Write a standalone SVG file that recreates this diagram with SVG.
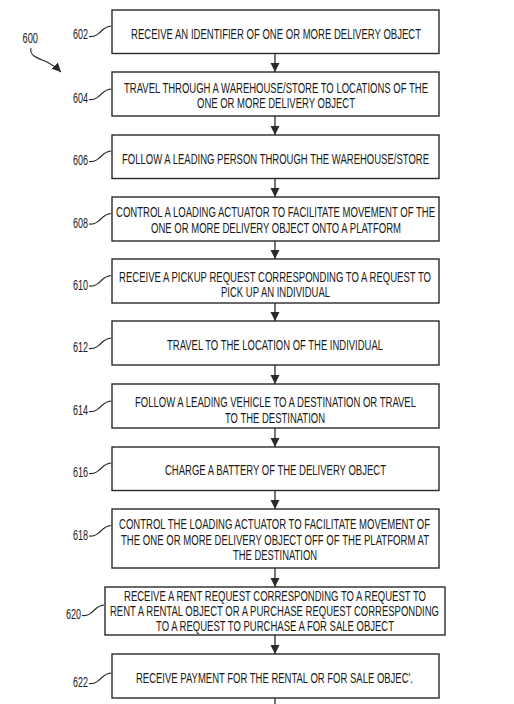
<svg xmlns="http://www.w3.org/2000/svg" width="514" height="704" viewBox="0 0 514 704">
<style>
.bg{fill:#fff}
.box{fill:#fff;stroke:#2a2a2a;stroke-width:1.4}
.t{font-family:"Liberation Sans",Arial,sans-serif;font-size:14px;fill:#1a1a1a}
.lb{font-family:"Liberation Sans",Arial,sans-serif;font-size:14px;fill:#1a1a1a}
.ld{fill:none;stroke:#2a2a2a;stroke-width:1.1}
.cn{fill:none;stroke:#2a2a2a;stroke-width:1.3}
</style>
<defs>
<marker id="ah" markerUnits="userSpaceOnUse" markerWidth="9" markerHeight="10" refX="9" refY="4.5" orient="auto">
<path d="M0,0 L9,4.5 L0,9 z" fill="#2a2a2a"/>
</marker>
</defs>
<rect class="bg" x="0" y="0" width="514" height="704"/>

<g id="ref600">
<text class="lb" x="22.5" y="43" textLength="15.5" lengthAdjust="spacingAndGlyphs">600</text>
<path class="ld" d="M31,48 C29,56 38,58 47,62 C53,65 57,68 61,72" marker-end="url(#ah)"/>
</g>

<g id="n602">
<rect class="box" x="112" y="10" width="327" height="43.5"/>
<text class="t" transform="translate(131,38.5) scale(0.72,1)" textLength="402.8" lengthAdjust="spacingAndGlyphs">RECEIVE AN IDENTIFIER OF ONE OR MORE DELIVERY OBJECT</text>
<text class="lb" x="73" y="39" textLength="15" lengthAdjust="spacingAndGlyphs">602</text>
<path class="ld" d="M89,36.5 C95,37.5 99,33.5 103,29.5 C105,27.5 108,26.5 111,26"/>
</g>

<g id="n604">
<rect class="box" x="112" y="72" width="327" height="44"/>
<text class="t" transform="translate(124,92.5) scale(0.72,1)" textLength="422.2" lengthAdjust="spacingAndGlyphs">TRAVEL THROUGH A WAREHOUSE/STORE TO LOCATIONS OF THE</text>
<text class="t" transform="translate(197,107.5) scale(0.72,1)" textLength="219.4" lengthAdjust="spacingAndGlyphs">ONE OR MORE DELIVERY OBJECT</text>
<text class="lb" x="73" y="103" textLength="15" lengthAdjust="spacingAndGlyphs">604</text>
<path class="ld" d="M89,99.5 C95,100.5 99,96.5 103,92.5 C105,90.5 108,89.5 111,89"/>
</g>

<g id="n606">
<rect class="box" x="112" y="135" width="327" height="43.5"/>
<text class="t" transform="translate(122,163.5) scale(0.72,1)" textLength="426.4" lengthAdjust="spacingAndGlyphs">FOLLOW A LEADING PERSON THROUGH THE WAREHOUSE/STORE</text>
<text class="lb" x="73" y="165" textLength="15" lengthAdjust="spacingAndGlyphs">606</text>
<path class="ld" d="M89,161.5 C95,162.5 99,158.5 103,154.5 C105,152.5 108,151.5 111,151"/>
</g>

<g id="n608">
<rect class="box" x="112" y="197" width="327" height="44"/>
<text class="t" transform="translate(116,217) scale(0.72,1)" textLength="443.1" lengthAdjust="spacingAndGlyphs">CONTROL A LOADING ACTUATOR TO FACILITATE MOVEMENT OF THE</text>
<text class="t" transform="translate(151,232.5) scale(0.72,1)" textLength="347.2" lengthAdjust="spacingAndGlyphs">ONE OR MORE DELIVERY OBJECT ONTO A PLATFORM</text>
<text class="lb" x="73" y="227.5" textLength="15" lengthAdjust="spacingAndGlyphs">608</text>
<path class="ld" d="M89,224 C95,225 99,221 103,217 C105,215 108,214 111,213.5"/>
</g>

<g id="n610">
<rect class="box" x="112" y="259" width="327" height="44"/>
<text class="t" transform="translate(119,281.5) scale(0.72,1)" textLength="433.3" lengthAdjust="spacingAndGlyphs">RECEIVE A PICKUP REQUEST CORRESPONDING TO A REQUEST TO</text>
<text class="t" transform="translate(221,297) scale(0.72,1)" textLength="151.4" lengthAdjust="spacingAndGlyphs">PICK UP AN INDIVIDUAL</text>
<text class="lb" x="73" y="289.5" textLength="15" lengthAdjust="spacingAndGlyphs">610</text>
<path class="ld" d="M89,286 C95,287 99,283 103,279 C105,277 108,276 111,275.5"/>
</g>

<g id="n612">
<rect class="box" x="112" y="321" width="327" height="44"/>
<text class="t" transform="translate(167,349.5) scale(0.72,1)" textLength="300" lengthAdjust="spacingAndGlyphs">TRAVEL TO THE LOCATION OF THE INDIVIDUAL</text>
<text class="lb" x="73" y="352" textLength="15" lengthAdjust="spacingAndGlyphs">612</text>
<path class="ld" d="M89,348.5 C95,349.5 99,345.5 103,341.5 C105,339.5 108,338.5 111,338"/>
</g>

<g id="n614">
<rect class="box" x="112" y="384" width="327" height="44"/>
<text class="t" transform="translate(135,407) scale(0.72,1)" textLength="390.3" lengthAdjust="spacingAndGlyphs">FOLLOW A LEADING VEHICLE TO A DESTINATION OR TRAVEL</text>
<text class="t" transform="translate(225,422.5) scale(0.72,1)" textLength="138.9" lengthAdjust="spacingAndGlyphs">TO THE DESTINATION</text>
<text class="lb" x="73" y="415" textLength="15" lengthAdjust="spacingAndGlyphs">614</text>
<path class="ld" d="M89,411.5 C95,412.5 99,408.5 103,404.5 C105,402.5 108,401.5 111,401"/>
</g>

<g id="n616">
<rect class="box" x="112" y="447" width="327" height="43.5"/>
<text class="t" transform="translate(165,475) scale(0.72,1)" textLength="306.9" lengthAdjust="spacingAndGlyphs">CHARGE A BATTERY OF THE DELIVERY OBJECT</text>
<text class="lb" x="73" y="477" textLength="15" lengthAdjust="spacingAndGlyphs">616</text>
<path class="ld" d="M89,473.5 C95,474.5 99,470.5 103,466.5 C105,464.5 108,463.5 111,463"/>
</g>

<g id="n618">
<rect class="box" x="112" y="509" width="327" height="59"/>
<text class="t" transform="translate(119,529) scale(0.72,1)" textLength="431.9" lengthAdjust="spacingAndGlyphs">CONTROL THE LOADING ACTUATOR TO FACILITATE MOVEMENT OF</text>
<text class="t" transform="translate(121,544.5) scale(0.72,1)" textLength="427.8" lengthAdjust="spacingAndGlyphs">THE ONE OR MORE DELIVERY OBJECT OFF OF THE PLATFORM AT</text>
<text class="t" transform="translate(233,559.5) scale(0.72,1)" textLength="116.7" lengthAdjust="spacingAndGlyphs">THE DESTINATION</text>
<text class="lb" x="73" y="539.5" textLength="15" lengthAdjust="spacingAndGlyphs">618</text>
<path class="ld" d="M89,536 C95,537 99,533 103,529 C105,527 108,526 111,525.5"/>
</g>

<g id="n620">
<rect class="box" x="105" y="587" width="340" height="48"/>
<text class="t" transform="translate(124,601) scale(0.72,1)" textLength="419.4" lengthAdjust="spacingAndGlyphs">RECEIVE A RENT REQUEST CORRESPONDING TO A REQUEST TO</text>
<text class="t" transform="translate(110,616) scale(0.72,1)" textLength="456.9" lengthAdjust="spacingAndGlyphs">RENT A RENTAL OBJECT OR A PURCHASE REQUEST CORRESPONDING</text>
<text class="t" transform="translate(156,631) scale(0.72,1)" textLength="330.6" lengthAdjust="spacingAndGlyphs">TO A REQUEST TO PURCHASE A FOR SALE OBJECT</text>
<text class="lb" x="66" y="619" textLength="15" lengthAdjust="spacingAndGlyphs">620</text>
<path class="ld" d="M82,615.5 C88,616.5 92,612.5 96,608.5 C98,606.5 101,605.5 104,605"/>
</g>

<g id="n622">
<rect class="box" x="112" y="654" width="327" height="44"/>
<text class="t" transform="translate(136,683) scale(0.72,1)" textLength="384.7" lengthAdjust="spacingAndGlyphs">RECEIVE PAYMENT FOR THE RENTAL OR FOR SALE OBJEC'.</text>
<text class="lb" x="73" y="687" textLength="15" lengthAdjust="spacingAndGlyphs">622</text>
<path class="ld" d="M89,683.5 C95,684.5 99,680.5 103,676.5 C105,674.5 108,673.5 111,673"/>
</g>

<g id="connectors">
<line class="cn" x1="275" y1="53.5" x2="275" y2="72" marker-end="url(#ah)"/>
<line class="cn" x1="275" y1="116" x2="275" y2="135" marker-end="url(#ah)"/>
<line class="cn" x1="275" y1="178.5" x2="275" y2="197" marker-end="url(#ah)"/>
<line class="cn" x1="275" y1="241" x2="275" y2="259" marker-end="url(#ah)"/>
<line class="cn" x1="275" y1="303" x2="275" y2="321" marker-end="url(#ah)"/>
<line class="cn" x1="275" y1="365" x2="275" y2="384" marker-end="url(#ah)"/>
<line class="cn" x1="275" y1="428" x2="275" y2="447" marker-end="url(#ah)"/>
<line class="cn" x1="275" y1="490.5" x2="275" y2="509" marker-end="url(#ah)"/>
<line class="cn" x1="275" y1="568" x2="275" y2="587" marker-end="url(#ah)"/>
<line class="cn" x1="275" y1="635" x2="275" y2="654" marker-end="url(#ah)"/>
<line class="cn" x1="275" y1="698" x2="275" y2="704"/>
</g>
</svg>
